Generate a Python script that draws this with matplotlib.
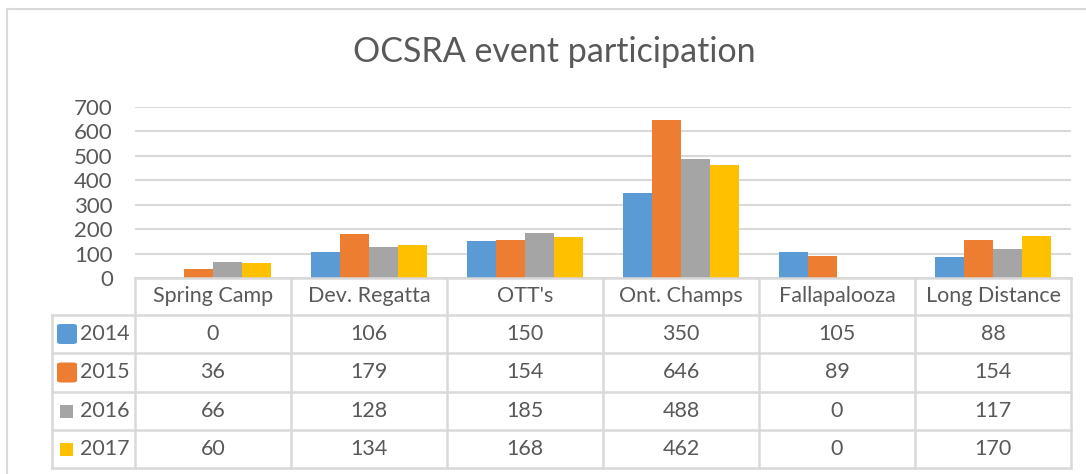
import numpy as np
import matplotlib.pyplot as plt
from matplotlib.lines import Line2D
from matplotlib.patches import FancyBboxPatch, Rectangle

events = ["Spring Camp", "Dev. Regatta", "OTT's", "Ont. Champs", "Fallapalooza", "Long Distance"]
years = ["2014", "2015", "2016", "2017"]
v2014 = [0, 106, 150, 350, 105, 88]
v2015 = [36, 179, 154, 646, 89, 154]
v2016 = [66, 128, 185, 488, 0, 117]
v2017 = [60, 134, 168, 462, 0, 170]
series = [v2014, v2015, v2016, v2017]
colors = ["#5B9BD5", "#ED7D31", "#A5A5A5", "#FFC000"]
yticks = [0, 100, 200, 300, 400, 500, 600, 700]

W, H = 1086, 474
TXT = "#595959"
GRID = "#D9D9D9"
plt.rcParams['font.family'] = ['Lato', 'DejaVu Sans']


def fx(x):
    return x / W


def fy(y):
    return 1 - y / H


fig = plt.figure(figsize=(W / 100, H / 100), dpi=100)

# chart area border (left and top visible)
fig.add_artist(Line2D([fx(7), fx(7)], [fy(9), 0], color=GRID, lw=1.5))
fig.add_artist(Line2D([fx(7), 1], [fy(9), fy(9)], color=GRID, lw=1.5))

fig.text(fx(554), fy(52), "OCSRA event participation", ha="center", va="center",
         fontsize=24.5, color=TXT)

# plot area
left, right, top, bottom = 135, 1071, 107, 278
ax = fig.add_axes([fx(left), fy(bottom), fx(right - left), fy(top) - fy(bottom)])
n = len(events)
x = np.arange(n)
bw = 0.187
for i, (vals, c) in enumerate(zip(series, colors)):
    ax.bar(x + (i - 1.5) * bw, vals, width=bw, color=c, zorder=3)
ax.set_xlim(-0.5, n - 0.5)
ax.set_ylim(0, 700)
ax.set_yticks(yticks)
ax.set_yticklabels([str(t) for t in yticks], fontsize=16, color=TXT)
ax.tick_params(axis="y", length=0, pad=16)
ax.set_xticks([])
ax.grid(axis="y", color=GRID, lw=1.5, zorder=0)
for s in ax.spines.values():
    s.set_visible(False)

# data table
col_w = (right - left) / n
rows_y = [278, 315, 353, 392, 430, 468]
tleft = 52
lw = 1.8
fs = 15.5
# horizontal lines
fig.add_artist(Line2D([fx(left), fx(right)], [fy(rows_y[0])] * 2, color=GRID, lw=lw))
for y in rows_y[1:]:
    fig.add_artist(Line2D([fx(tleft), fx(right)], [fy(y)] * 2, color=GRID, lw=lw))
# vertical lines
fig.add_artist(Line2D([fx(tleft)] * 2, [fy(rows_y[1]), fy(rows_y[-1])], color=GRID, lw=lw))
for j in range(n + 1):
    xx = left + j * col_w
    fig.add_artist(Line2D([fx(xx)] * 2, [fy(rows_y[0]), fy(rows_y[-1])], color=GRID, lw=lw))

# header
for j, ev in enumerate(events):
    cx = left + (j + 0.5) * col_w
    fig.text(fx(cx), fy((rows_y[0] + rows_y[1]) / 2), ev, ha="center", va="center",
             fontsize=fs, color=TXT)

# rows
for i, (yr, vals, c) in enumerate(zip(years, series, colors)):
    cy = (rows_y[i + 1] + rows_y[i + 2]) / 2
    if i < 2:
        fig.add_artist(FancyBboxPatch((fx(57), fy(cy + 10)), fx(20), (fy(cy - 10) - fy(cy + 10)),
                                      boxstyle="round,pad=0,rounding_size=0.004",
                                      facecolor=c, edgecolor="none"))
    else:
        fig.add_artist(Rectangle((fx(60), fy(cy + 6.5)), fx(13), fy(cy - 6.5) - fy(cy + 6.5),
                                 facecolor=c, edgecolor="none"))
    fig.text(fx(80), fy(cy), yr, ha="left", va="center", fontsize=fs, color=TXT)
    for j, v in enumerate(vals):
        cx = left + (j + 0.5) * col_w
        fig.text(fx(cx), fy(cy), str(v), ha="center", va="center", fontsize=fs, color=TXT)

fig.savefig("out.png", dpi=100)
